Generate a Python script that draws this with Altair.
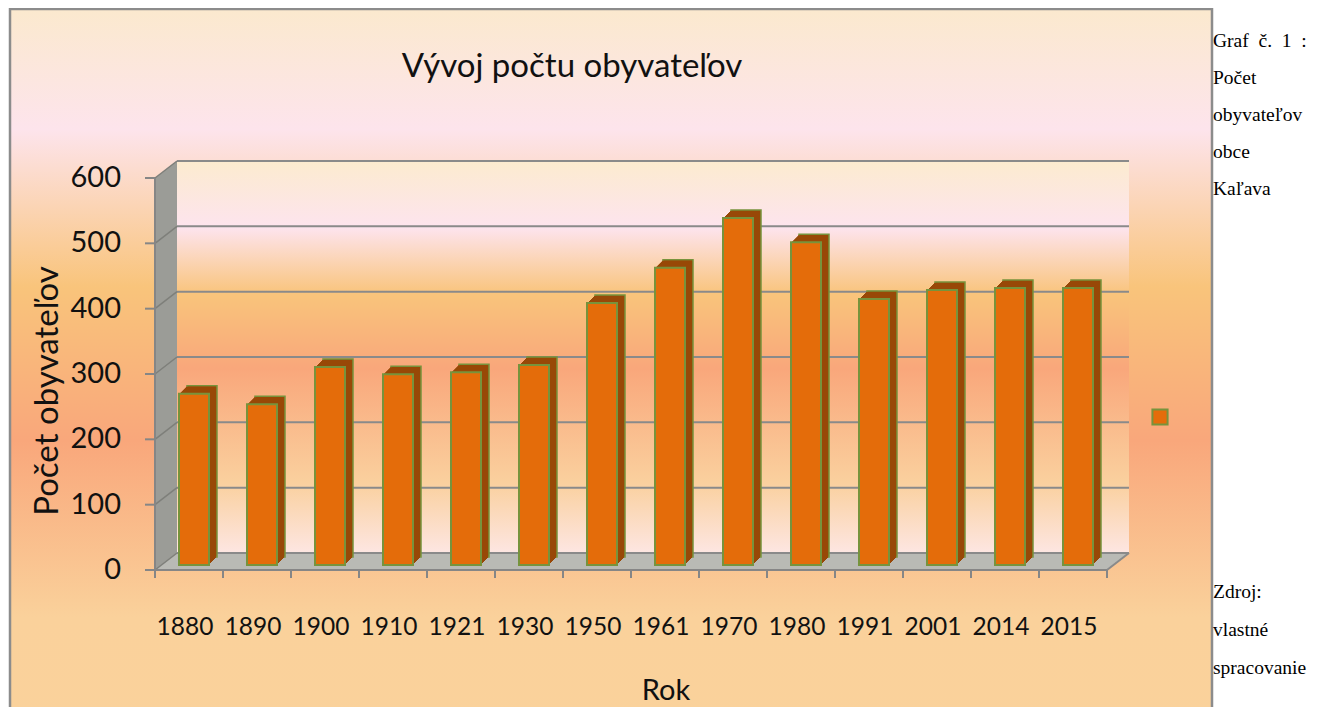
import altair as alt
import pandas as pd

# ---------------- data ----------------
years = ["1880", "1890", "1900", "1910", "1921", "1930", "1950",
         "1961", "1970", "1980", "1991", "2001", "2014", "2015"]
population = [262, 246, 303, 292, 295, 306, 401, 455, 531, 494, 407, 421, 424, 424]
y_ticks = [0, 100, 200, 300, 400, 500, 600]

title_text = "Vývoj počtu obyvateľov"
y_title = "Počet obyvateľov"
x_title = "Rok"
caption_top = ["Graf\u00a0 č.\u00a0 1\u00a0 :", "Počet", "obyvateľov", "obce", "Kaľava"]
caption_bottom = ["Zdroj:", "vlastné", "spracovanie"]

df = pd.DataFrame({"year": years, "pop": population})
ticks_df = pd.DataFrame({"v": y_ticks})

# ---------------- layout ----------------
W, H = 952, 392          # front plot area
DX, DY = 22, 17          # 3D depth of walls
OX, OY = 155, 178        # page position of plot origin
TOTAL_W, TOTAL_H = 1303, 699

def px(x):
    return x - OX

def py(y):
    return y - OY

ORANGE = "#E46C0A"
DARK = "#984807"
GREEN = "#77933C"
GRID = "#8A8A8A"
AXIS_GRAY = "#868686"
SIDE = "#9B9C97"
FLOOR = "#B9BAB5"
FONT = "Lato"
TEXT = "#111111"

def grad(stops):
    return alt.LinearGradient(
        gradient="linear",
        stops=[alt.GradientStop(offset=o, color=c) for o, c in stops],
        x1=0, x2=0, y1=0, y2=1,
    )

chart_grad = grad([
    (0.0, "#FBE9CE"),
    (0.16, "#FDE4EC"),
    (0.37, "#F9C47B"),
    (0.575, "#F9A77B"),
    (0.81, "#FAD19B"),
    (1.0, "#FAD29B"),
])
wall_grad = grad([
    (0.0, "#FCEBCF"),
    (0.17, "#FDE4EE"),
    (0.34, "#F9C47B"),
    (0.53, "#F9A77B"),
    (0.82, "#FAD09E"),
    (1.0, "#FDE6E2"),
])

x_scale = alt.Scale(domain=years, paddingInner=0, paddingOuter=0)
y_scale = alt.Scale(domain=[0, 600], nice=False, zero=True)

X_ENC = alt.X("year:N", sort=years, scale=x_scale, axis=None)
Y_ENC = alt.Y("pop:Q", scale=y_scale, axis=None)
YT_ENC = alt.Y("v:Q", scale=y_scale, axis=None)

layers = []

# chart background
layers.append(
    alt.Chart().mark_rect(fill=chart_grad, stroke="#8C8C8C", strokeWidth=2.5).encode(
        x=alt.value(px(10)), x2=alt.value(px(1212)),
        y=alt.value(py(9)), y2=alt.value(py(760)),
    )
)
# back wall
layers.append(
    alt.Chart().mark_rect(fill=wall_grad).encode(
        x=alt.value(DX), x2=alt.value(W + DX),
        y=alt.value(-DY), y2=alt.value(H - DY),
    )
)
# side wall (slanted, drawn as thin slices)
for i in range(DX):
    off = DY * (i + 0.5) / DX
    layers.append(
        alt.Chart().mark_rect(fill=SIDE).encode(
            x=alt.value(i), x2=alt.value(i + 1),
            y=alt.value(-off), y2=alt.value(H - off),
        )
    )
# floor (slanted, drawn as thin slices)
for j in range(DY):
    sh = DX * (j + 0.5) / DY
    layers.append(
        alt.Chart().mark_rect(fill=FLOOR).encode(
            x=alt.value(sh), x2=alt.value(W + sh),
            y=alt.value(H - j - 1), y2=alt.value(H - j),
        )
    )
# floor right edge
layers.append(
    alt.Chart().mark_rule(color=GRID, strokeWidth=2).encode(
        x=alt.value(W), x2=alt.value(W + DX),
        y=alt.value(H), y2=alt.value(H - DY),
    )
)
# back-wall gridlines
layers.append(
    alt.Chart(ticks_df).mark_rule(color=GRID, strokeWidth=2, yOffset=-DY).encode(
        x=alt.value(DX), x2=alt.value(W + DX), y=YT_ENC,
    )
)
# side-wall slanted gridlines
layers.append(
    alt.Chart(ticks_df).mark_rule(color="#7E7F7A", strokeWidth=1.5, y2Offset=-DY).encode(
        x=alt.value(0), x2=alt.value(DX), y=YT_ENC, y2=alt.Y2("v"),
    )
)

# 3D bars: depth body
BAR_W = 30
FX, FY = 5, 5
DEPTH = 8
for k in range(DEPTH, 0, -1):
    extra = dict(stroke=GREEN, strokeWidth=1.5) if k == DEPTH else {}
    layers.append(
        alt.Chart(df).mark_bar(
            size=BAR_W, color=DARK, xOffset=FX + k, yOffset=-FY - k, y2Offset=-FY - k, **extra
        ).encode(x=X_ENC, y=Y_ENC, y2=alt.Y2Datum(0))
    )
# front faces
layers.append(
    alt.Chart(df).mark_bar(
        size=BAR_W, color=ORANGE, stroke=GREEN, strokeWidth=2,
        xOffset=FX, yOffset=-FY, y2Offset=-FY,
    ).encode(x=X_ENC, y=Y_ENC, y2=alt.Y2Datum(0))
)

# ---------------- axes (drawn from the scales) ----------------
# y axis line
layers.append(
    alt.Chart().mark_rule(color=AXIS_GRAY, strokeWidth=2).encode(
        x=alt.value(0), y=alt.value(0), y2=alt.value(H))
)
# y ticks
layers.append(
    alt.Chart(ticks_df).mark_rule(color=AXIS_GRAY, strokeWidth=2).encode(
        x=alt.value(-10), x2=alt.value(0), y=YT_ENC)
)
# y labels
layers.append(
    alt.Chart(ticks_df).mark_text(font=FONT, fontSize=29, color=TEXT, align="right",
                                  baseline="middle").encode(
        x=alt.value(px(121)), y=YT_ENC, text=alt.Text("v:Q"))
)
# x axis line
layers.append(
    alt.Chart().mark_rule(color=AXIS_GRAY, strokeWidth=2).encode(
        x=alt.value(0), x2=alt.value(W), y=alt.value(H))
)
# x ticks at band boundaries
layers.append(
    alt.Chart(df).mark_rule(color=AXIS_GRAY, strokeWidth=2).encode(
        x=alt.X("year:N", sort=years, scale=x_scale, axis=None, bandPosition=0),
        y=alt.value(H), y2=alt.value(H + 8))
)
layers.append(
    alt.Chart().mark_rule(color=AXIS_GRAY, strokeWidth=2).encode(
        x=alt.value(W), y=alt.value(H), y2=alt.value(H + 8))
)
# x labels
layers.append(
    alt.Chart(df).mark_text(font=FONT, fontSize=24.5, color=TEXT, align="center",
                            baseline="middle", dx=-4).encode(
        x=X_ENC, y=alt.value(py(628)), text="year:N")
)

# titles
layers.append(
    alt.Chart().mark_text(text=title_text, font=FONT, fontSize=33, color=TEXT,
                          align="center", baseline="middle").encode(
        x=alt.value(px(572)), y=alt.value(py(67)))
)
layers.append(
    alt.Chart().mark_text(text=y_title, font=FONT, fontSize=33, color=TEXT, angle=270,
                          align="center", baseline="middle").encode(
        x=alt.value(px(48)), y=alt.value(py(391)))
)
layers.append(
    alt.Chart().mark_text(text=x_title, font=FONT, fontSize=29, color=TEXT,
                          align="center", baseline="middle").encode(
        x=alt.value(px(666)), y=alt.value(py(691)))
)

# legend square
layers.append(
    alt.Chart().mark_point(shape="square", size=230, filled=True, fill=ORANGE,
                           stroke=GREEN, strokeWidth=2, opacity=1).encode(
        x=alt.value(px(1160)), y=alt.value(py(417)))
)

# right-hand caption
top_y = [41, 78, 115, 152, 189]
for t, yy in zip(caption_top, top_y):
    layers.append(
        alt.Chart().mark_text(text=t, font="Liberation Serif", fontSize=19.5, color="#000",
                              align="left", baseline="middle").encode(
            x=alt.value(px(1213)), y=alt.value(py(yy)))
    )
bot_y = [592, 630, 668]
for t, yy in zip(caption_bottom, bot_y):
    layers.append(
        alt.Chart().mark_text(text=t, font="Liberation Serif", fontSize=19.5, color="#000",
                              align="left", baseline="middle").encode(
            x=alt.value(px(1213)), y=alt.value(py(yy)))
    )

chart = alt.layer(*layers).properties(
    width=W,
    height=H,
    autosize=alt.AutoSizeParams(type="none"),
    padding={"left": OX - 8, "top": OY - 8,
             "right": TOTAL_W - (OX - 8) - W, "bottom": TOTAL_H - (OY - 8) - H},
).configure_view(stroke=None).configure(background="white")

chart.save("out.html", embed_options={"renderer": "svg", "actions": False})
